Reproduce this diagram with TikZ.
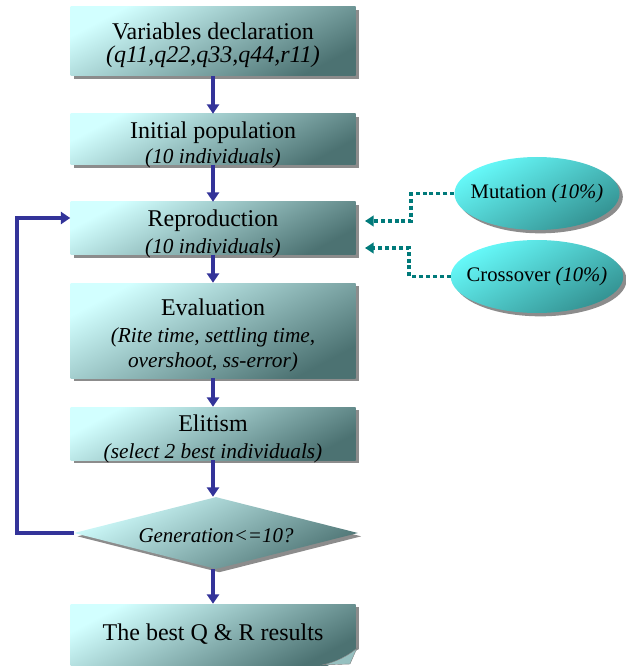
\documentclass[tikz,border=0pt]{standalone}
\usepackage{fontspec}
\setmainfont{Liberation Serif}
\usetikzlibrary{shapes.geometric,shadows,arrows.meta,calc}
\definecolor{boxlight}{RGB}{210,255,255}
\definecolor{boxmid}{RGB}{158,204,204}
\definecolor{boxdark}{RGB}{76,114,114}
\definecolor{elllight}{RGB}{102,250,250}
\definecolor{elldark}{RGB}{52,146,146}
\definecolor{flowblue}{RGB}{51,51,153}
\definecolor{dotteal}{RGB}{0,122,122}
\definecolor{shadowgray}{RGB}{140,140,140}
\newcommand\mytitle{\fontsize{18}{19}\selectfont}
\newcommand\mysub{\fontsize{16}{19}\selectfont\itshape}
\newcommand\mysubbig{\fontsize{18}{19}\selectfont\itshape}
\newcommand\topstrut{\rule{0pt}{20.5pt}}
\begin{document}
\begin{tikzpicture}[x=0.75pt,y=-0.75pt,
  myshadow/.style={drop shadow={shadow xshift=2.5pt,shadow yshift=-2.5pt,fill=shadowgray,opacity=1}},
  stepbox/.style={rectangle,minimum width=213.75pt,inner xsep=1pt,inner ysep=-6pt,align=center,
    font=\fontsize{16}{19}\selectfont,
    top color=boxlight,middle color=boxmid,bottom color=boxdark,shading angle=28,myshadow},
  decbox/.style={diamond,aspect=3.94,minimum width=213pt,minimum height=54pt,inner sep=0pt,
    top color=boxlight,middle color=boxmid,bottom color=boxdark,shading angle=28,myshadow},
  opbox/.style={ellipse,minimum width=123.75pt,minimum height=54.75pt,inner xsep=-7pt,inner ysep=0pt,
    font=\fontsize{15.5}{18}\selectfont,
    top color=elllight,bottom color=elldark,shading angle=30,myshadow},
  flow/.style={draw=flowblue,line width=3pt,-{Triangle[width=9pt,length=7pt]}},
  dotflow/.style={draw=dotteal,line width=2.4pt,dash pattern=on 3pt off 2.2pt,
    -{Triangle[width=8pt,length=6.5pt]}}]
\useasboundingbox (0,0) rectangle (625,666);

\node[stepbox,minimum height=51.75pt] (var) at (213,41.5)
  {{\mytitle\rule{0pt}{18pt}Variables declaration}\\[-1.75pt]{\mysubbig (q11,q22,q33,q44,r11)}};
\node[stepbox,minimum height=38.25pt] (init) at (213,139.5)
  {{\mytitle\topstrut Initial population}\\[0pt]{\mysub (10 individuals)}};
\node[stepbox,minimum height=39.75pt] (rep) at (213,228.5)
  {{\mytitle\topstrut Reproduction}\\[1pt]{\mysub (10 individuals)}};
\node[stepbox,minimum height=71.25pt] (eval) at (213,330.5)
  {{\mytitle\topstrut Evaluation}\\[1pt]{\mysub (Rite time, settling time,}\\[0pt]{\mysub overshoot, ss-error)}};
\node[stepbox,minimum height=39.75pt] (elit) at (213,433.5)
  {{\mytitle\topstrut Elitism}\\[1pt]{\mysub (select 2 best individuals)}};
\node[decbox] (dec) at (216,533) {\fontsize{15.7}{18}\selectfont\itshape\rule{0pt}{14pt}Generation<=10?};
\node[stepbox,minimum height=45.75pt] (res) at (213,634.5)
  {\mytitle The best Q \& R results};
% page curl of the result box
\fill[white] (320,670) -- (365,670) -- (365,646) -- cycle;
\fill[boxlight!55!boxdark,draw=gray,line width=0.3pt] (322,665) .. controls (336,662) and (348,656) .. (357,648) -- (350,664) -- cycle;

\node[opbox] (mut) at (537,193.5) {Mutation \textit{(10\%)}};
\node[opbox] (cro) at (537,276.5) {Crossover \textit{(10\%)}};

\draw[flow] (var) -- (init);
\draw[flow] (init) -- (rep);
\draw[flow] (rep) -- (eval);
\draw[flow] (eval) -- (elit);
\draw[flow] (elit.south) -- (elit.south|-dec.north);
\draw[flow] (dec.south-|res.north) -- (res);

\coordinate (loopB) at (17,533);
\coordinate (loopT) at (17,218);
\draw[flow] (dec.west) -- (loopB) -- (loopT) -- (rep.west|-loopT);

\coordinate (mturn) at (411,221);
\coordinate (mtip) at (365,221);
\coordinate (cturn) at (409,248);
\coordinate (ctip) at (365,248);
\draw[dotflow] (mut.west) -| (mturn) -- (mtip);
\draw[dotflow] (cro.west) -| (cturn) -- (ctip);
\end{tikzpicture}
\end{document}
